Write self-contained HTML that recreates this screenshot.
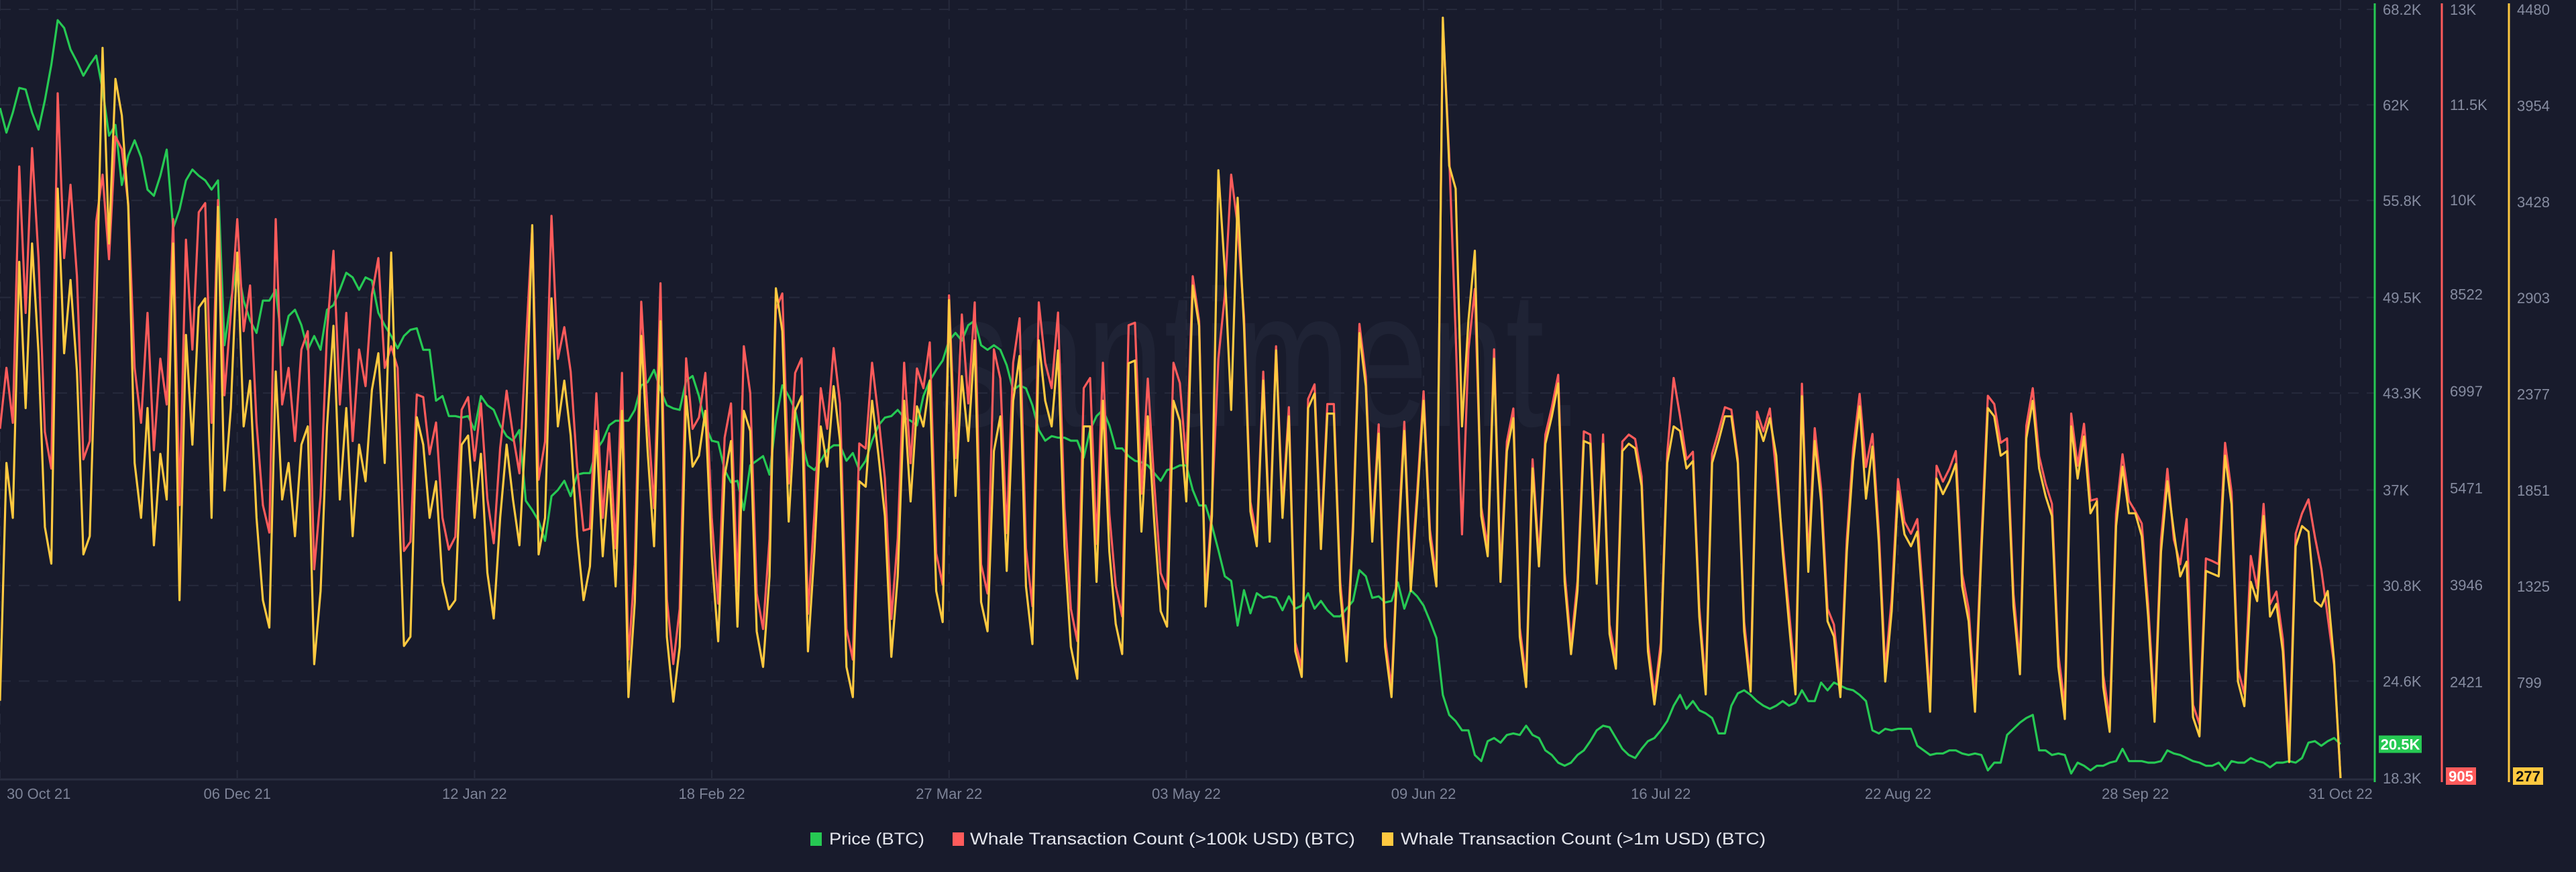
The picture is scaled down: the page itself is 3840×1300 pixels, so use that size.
<!DOCTYPE html>
<html><head><meta charset="utf-8"><title>Whale Transactions vs Price</title>
<style>
html,body{margin:0;padding:0;background:#181b2c;}
svg{display:block;font-family:"Liberation Sans",sans-serif;}
</style></head>
<body>
<svg id="chart" width="3840" height="1300" viewBox="0 0 3840 1300" xmlns="http://www.w3.org/2000/svg">
<rect x="0" y="0" width="3840" height="1300" fill="#181b2c"/>
<text x="1330" y="635" font-size="290" fill="#1f2335" textLength="1030" lengthAdjust="spacingAndGlyphs">·santiment.</text>
<g id="grid"></g>
<g id="series"></g>
<g id="axes"></g>
<g id="legend">
  <g>
    <rect x="1208" y="1241" width="17" height="20" fill="#26c953"/>
    <text x="1236" y="1259" font-size="25" fill="#e3e5ec" textLength="142" lengthAdjust="spacingAndGlyphs">Price (BTC)</text>
  </g>
  <g>
    <rect x="1420" y="1241" width="17" height="20" fill="#ff5b5b"/>
    <text x="1446" y="1259" font-size="25" fill="#e3e5ec" textLength="574" lengthAdjust="spacingAndGlyphs">Whale Transaction Count (&gt;100k USD) (BTC)</text>
  </g>
  <g>
    <rect x="2060" y="1241" width="17" height="20" fill="#ffc940"/>
    <text x="2088" y="1259" font-size="25" fill="#e3e5ec" textLength="544" lengthAdjust="spacingAndGlyphs">Whale Transaction Count (&gt;1m USD) (BTC)</text>
  </g>
</g>
</svg>
<script>
const xTickDays = [0,37,74,111,148,185,222,259,296,333,365];
const xTickLabels = ['30 Oct 21','06 Dec 21','12 Jan 22','18 Feb 22','27 Mar 22','03 May 22','09 Jun 22','16 Jul 22','22 Aug 22','28 Sep 22','31 Oct 22'];
const priceTickValues = [18.3,24.6,30.8,37,43.3,49.5,55.8,62,68.2];
const priceTickLabels = ['18.3K','24.6K','30.8K','37K','43.3K','49.5K','55.8K','62K','68.2K'];
const redTickValues = [2421,3946,5471,6997,8522,10000,11500,13000];
const redTickLabels = ['2421','3946','5471','6997','8522','10K','11.5K','13K'];
const yelTickValues = [799,1325,1851,2377,2903,3428,3954,4480];
const yelTickLabels = ['799','1325','1851','2377','2903','3428','3954','4480'];

const price = [
61.8,60.2,61.5,63.1,63.0,61.5,60.4,
62.3,64.6,67.5,67.0,65.6,64.8,63.9,
64.6,65.2,63.0,60.0,60.7,56.8,58.7,
59.7,58.6,56.5,56.1,57.4,59.1,54.0,
55.2,57.1,57.8,57.4,57.1,56.5,57.1,
46.4,49.3,51.6,49.3,48.0,47.2,49.3,
49.3,50.0,46.4,48.3,48.7,47.7,46.1,
47.0,46.1,48.7,49.0,50.0,51.1,50.8,
50.0,50.8,50.6,48.5,47.7,47.0,46.2,
47.0,47.4,47.5,46.1,46.1,42.8,43.1,
41.8,41.8,41.7,41.8,40.9,43.1,42.5,
42.2,41.2,40.5,40.2,40.9,36.3,35.7,
35.0,33.7,36.6,37.0,37.6,36.6,38.0,
38.1,38.1,39.6,40.2,41.2,41.5,41.5,
41.5,42.2,43.8,44.0,44.8,43.5,42.5,
42.3,42.2,44.1,44.4,43.1,41.2,40.2,
40.1,38.3,37.5,37.6,35.7,38.6,38.9,
39.2,38.0,41.5,43.8,43.1,42.2,40.2,
38.6,38.3,38.9,39.6,39.9,39.9,38.9,
39.4,38.3,38.9,40.2,41.2,41.7,41.8,
42.2,41.7,41.5,41.2,43.1,44.1,44.8,
45.4,46.7,47.2,46.7,47.7,48.0,46.4,
46.1,46.4,46.1,45.1,43.5,43.8,43.6,
42.5,40.9,40.2,40.5,40.4,40.4,40.2,
40.2,39.1,40.9,41.8,42.2,41.2,39.7,
39.7,39.2,38.9,38.8,38.6,38.1,37.6,
38.3,38.4,38.6,38.6,37.0,36.0,36.0,
34.7,33.1,31.4,31.1,28.2,30.5,29.0,
30.3,30.0,30.1,30.0,29.2,30.1,29.3,
29.5,30.3,29.3,29.8,29.2,28.8,28.8,
29.3,29.8,31.8,31.4,30.0,30.1,29.7,
29.8,31.0,29.3,30.5,30.1,29.5,28.5,
27.4,23.7,22.4,22.0,21.4,21.4,19.8,
19.4,20.7,20.9,20.6,21.1,21.2,21.1,
21.7,21.1,20.9,20.1,19.8,19.3,19.1,
19.3,19.8,20.1,20.7,21.4,21.7,21.6,
20.9,20.2,19.8,19.6,20.2,20.7,20.9,
21.4,22.0,23.0,23.7,22.8,23.3,22.7,
22.5,22.2,21.2,21.2,23.0,23.8,24.0,
23.7,23.3,23.0,22.8,23.0,23.3,23.0,
23.2,24.0,23.3,23.3,24.5,24.0,24.5,
24.3,24.1,24.0,23.7,23.3,21.4,21.2,
21.5,21.4,21.5,21.5,21.5,20.4,20.1,
19.8,19.9,19.9,20.1,20.1,19.9,19.8,
19.9,19.8,18.8,19.3,19.3,21.1,21.5,
21.9,22.2,22.4,20.1,20.1,19.8,19.9,
19.8,18.6,19.3,19.1,18.8,19.1,19.1,
19.3,19.4,20.2,19.4,19.4,19.4,19.3,
19.3,19.4,20.1,19.9,19.8,19.6,19.4,
19.3,19.1,19.1,19.3,18.8,19.4,19.3,
19.3,19.6,19.4,19.3,19.0,19.3,19.3,
19.4,19.3,19.6,20.6,20.7,20.4,20.7,
20.9,20.5];

const whale100k = [
6400,7360,6496,10528,8224,10816,9088,
6352,5776,11680,9088,10240,8800,5920,
6208,9664,10400,9070,11000,10800,9940,
7360,6496,8224,6064,7504,6784,9700,
5200,9376,7648,9808,9952,6496,10000,
6928,8224,9700,7936,8656,6496,5200,
4768,9700,6784,7360,6208,7648,7936,
4192,5344,7936,9200,6784,8224,6208,
7648,7072,8512,9088,7360,7700,7360,
4480,4624,6940,6900,6000,6500,5000,
4500,4700,6700,6900,5900,6800,5300,
4600,6100,7000,6300,5700,7700,9560,
5600,6200,9750,7500,8000,7300,5800,
4800,4830,6960,5000,6330,4520,7280,
2770,4270,8400,6650,5150,8690,3720,
2700,3570,7510,6400,6580,7280,5000,
3650,6260,6800,3880,7700,6960,3810,
3250,4670,8280,8530,5540,7280,7510,
3490,5060,7040,6400,7670,6800,3250,
2770,6170,6090,7440,6580,5620,3410,
4670,7440,5860,7350,7040,7760,4440,
3950,8500,5940,8200,6800,8390,4270,
3810,7650,7190,4760,7440,8140,4520,
3610,8390,7440,7040,8230,5150,3570,
3060,7040,7200,4590,7440,5060,3930,
3450,8030,8070,5380,7190,5540,4130,
3880,7440,7120,5860,8800,8100,3750,
5170,7500,8500,10400,9600,8170,5250,
4700,7300,4770,7700,5150,6740,3040,
2640,6870,7100,4660,6790,6790,4000,
2890,4930,8050,7220,4770,6470,3120,
2320,4610,6510,4000,5400,6990,4810,
4070,12800,10700,7900,4740,7650,8600,
5170,4540,7650,4140,6200,6720,3270,
2480,5920,4380,6310,6740,7250,4140,
3000,4000,6360,6310,4110,6310,3320,
2770,6200,6310,6240,5650,3040,2210,
3040,6010,7200,6600,5920,6040,3590,
2370,6010,6360,6740,6700,5930,3360,
2410,6670,6360,6720,5700,4610,3530,
2420,7110,4350,6410,5460,3570,3320,
2370,4660,6090,6950,5800,6320,4790,
2620,3730,5610,4940,4750,4980,3640,
2140,5820,5570,5770,6050,4120,3570,
2140,4660,6920,6790,6180,6250,3800,
2730,6450,7040,5970,5540,5220,2850,
2030,6640,5820,6480,5270,5300,2530,
1830,5070,6000,5270,5100,4910,3640,
1980,4660,5770,4660,4270,4980,2060,
1750,4360,4320,4270,6180,5410,2620,
2230,4400,3890,5220,3640,3840,3090,
1350,4750,5070,5290,4700,4190,3440,
2690,905];

const whale1m = [
700,2000,1700,3100,2300,3200,2600,
1650,1450,3500,2600,3000,2500,1500,
1600,2800,4270,3200,4100,3900,3400,
2000,1700,2300,1550,2050,1800,3200,
1250,2700,2100,2850,2900,1700,3400,
1850,2300,3150,2200,2450,1700,1250,
1100,2500,1800,2000,1600,2100,2200,
900,1300,2200,2750,1800,2300,1600,
2100,1900,2400,2600,2000,3150,2000,
1000,1050,2250,2100,1700,1900,1350,
1200,1250,2100,2150,1700,2050,1400,
1150,1700,2100,1800,1550,2200,3300,
1500,1700,2900,2200,2450,2150,1600,
1250,1435,2175,1490,1955,1325,2285,
720,1240,2695,2065,1545,2775,1050,
695,995,2365,1980,2040,2285,1490,
1025,1930,2120,1105,2285,2175,1080,
885,1380,2955,2720,1680,2285,2365,
970,1515,2200,1980,2420,2120,885,
720,1900,1870,2340,2040,1710,940,
1380,2340,1790,2310,2200,2450,1300,
1130,2890,1820,2475,2120,2670,1240,
1080,2065,2255,1410,2340,2585,1325,
1010,2670,2340,2200,2615,1545,995,
820,2200,2200,1350,2340,1515,1120,
955,2545,2560,1625,2255,1680,1190,
1105,2340,2230,1790,2970,2750,1215,
1710,3600,3050,2290,3450,2750,1735,
1545,2450,1570,2615,1700,2255,970,
830,2300,2380,1530,2270,2270,1300,
915,1625,2710,2420,1570,2160,995,
720,1515,2175,1300,1790,2340,1585,
1325,4435,3625,3500,2200,2780,3160,
1710,1490,2570,1350,2065,2245,1050,
775,1970,1435,2105,2255,2435,1350,
955,1300,2120,2105,1340,2105,1065,
875,2065,2105,2080,1875,970,680,
970,2000,2200,2175,1970,2010,1160,
735,2000,2120,2255,2255,2000,1080,
750,2230,2120,2245,2040,1515,1120,
735,2365,1405,2120,1790,1135,1050,
720,1515,2010,2310,1805,2090,1560,
805,1190,1845,1610,1545,1625,1160,
640,1915,1830,1900,1995,1325,1135,
640,1515,2300,2255,2040,2065,1215,
845,2135,2340,1970,1820,1710,885,
600,2200,1915,2145,1725,1790,775,
530,1655,1980,1725,1725,1600,1160,
585,1515,1900,1625,1380,1460,610,
505,1410,1395,1380,2040,1775,805,
670,1350,1245,1710,1160,1230,970,
365,1545,1655,1625,1245,1215,1300,
915,277];

const NS = 'http://www.w3.org/2000/svg';
const PLOT_TOP = 14, PLOT_BOTTOM = 1160, PLOT_LEFT = 0, LAST_X = 3489;
const DAYS = 365;
function xScale(d){ return PLOT_LEFT + d * (LAST_X - PLOT_LEFT) / DAYS; }
function linScale(min, max){ return v => PLOT_BOTTOM - (v - min) / (max - min) * (PLOT_BOTTOM - PLOT_TOP); }
const yPrice = linScale(18.3, 68.2);
const yRed = linScale(905, 13000);
const yYel = linScale(277, 4480);

function mk(tag, attrs, parent){
  const el = document.createElementNS(NS, tag);
  for (const k in attrs) el.setAttribute(k, attrs[k]);
  parent.appendChild(el);
  return el;
}
const grid = document.getElementById('grid');
const axes = document.getElementById('axes');
const series = document.getElementById('series');

// horizontal grid lines
priceTickValues.forEach((v) => {
  const y = yPrice(v);
  if (v === 18.3) return;
  const l = mk('line', {x1: 0, x2: 3540, y1: y, y2: y, stroke: '#262a3c', 'stroke-width': 2, 'stroke-dasharray': '16 12'}, grid);
  
  
});
// vertical grid lines
xTickDays.forEach((d) => {
  const x = xScale(d);
  const l = mk('line', {x1: x, x2: x, y1: 0, y2: PLOT_BOTTOM, stroke: '#262a3c', 'stroke-width': 2, 'stroke-dasharray': '16 12'}, grid);
  
  
});
// x axis baseline
const base = mk('line', {x1: 0, x2: 3540, y1: PLOT_BOTTOM + 2, y2: PLOT_BOTTOM + 2, stroke: '#2a2e40', 'stroke-width': 3}, axes);



// x tick labels
xTickDays.forEach((d, i) => {
  const x = xScale(d);
  const t = mk('text', {x: i === 0 ? 10 : x, y: 1191, 'font-size': 22, fill: '#7d8397', 'text-anchor': i === 0 ? 'start' : 'middle'}, axes);
  t.textContent = xTickLabels[i];
  
  
});

function axisLine(x, color, name){
  const l = mk('line', {x1: x, x2: x, y1: 5, y2: 1166, stroke: color, 'stroke-width': 3}, axes);
  
  
}
axisLine(3540, '#26c953', 'price-axis-line');
axisLine(3640, '#ff5b5b', 'whale-100k-axis-line');
axisLine(3740, '#ffc940', 'whale-1m-axis-line');

function tickLabels(vals, labels, scale, x, name){
  vals.forEach((v, i) => {
    const t = mk('text', {x: x, y: scale(v) + 8, 'font-size': 22, fill: '#868ca0'}, axes);
    t.textContent = labels[i];
    
    
  });
}
tickLabels(priceTickValues, priceTickLabels, yPrice, 3552, 'price-tick-label');
tickLabels(redTickValues, redTickLabels, yRed, 3652, 'whale-100k-tick-label');
tickLabels(yelTickValues, yelTickLabels, yYel, 3752, 'whale-1m-tick-label');

// series lines
function drawLine(vals, scale, color, name){
  let d = '';
  vals.forEach((v, i) => { d += (i ? 'L' : 'M') + xScale(i).toFixed(1) + ' ' + scale(v).toFixed(1); });
  const p = mk('path', {d: d, fill: 'none', stroke: color, 'stroke-width': 3.2, 'stroke-linejoin': 'round'}, series);
  
  
}
drawLine(price, yPrice, '#26c953', 'price-line');
drawLine(whale100k, yRed, '#ff5b5b', 'whale-100k-line');
drawLine(whale1m, yYel, '#ffc940', 'whale-1m-line');

// last-value badges
function badge(x, yCenter, w, color, textColor, label, name){
  const g = mk('g', {}, axes);
  
  
  mk('rect', {x: x, y: yCenter - 13, width: w, height: 26, fill: color}, g);
  const t = mk('text', {x: x + w / 2, y: yCenter + 8, 'font-size': 22, 'font-weight': 'bold', fill: textColor, 'text-anchor': 'middle'}, g);
  t.textContent = label;
}
const lastP = price[price.length - 1];
const lastR = whale100k[whale100k.length - 1];
const lastY = whale1m[whale1m.length - 1];
badge(3546, yPrice(lastP), 64, '#26c953', '#ffffff', lastP.toFixed(1) + 'K', 'price-last-value-badge');
badge(3646, Math.min(yRed(lastR), 1157), 45, '#ff5b5b', '#ffffff', String(lastR), 'whale-100k-last-value-badge');
badge(3746, Math.min(yYel(lastY), 1157), 45, '#ffc940', '#111111', String(lastY), 'whale-1m-last-value-badge');
</script>
</body></html>
